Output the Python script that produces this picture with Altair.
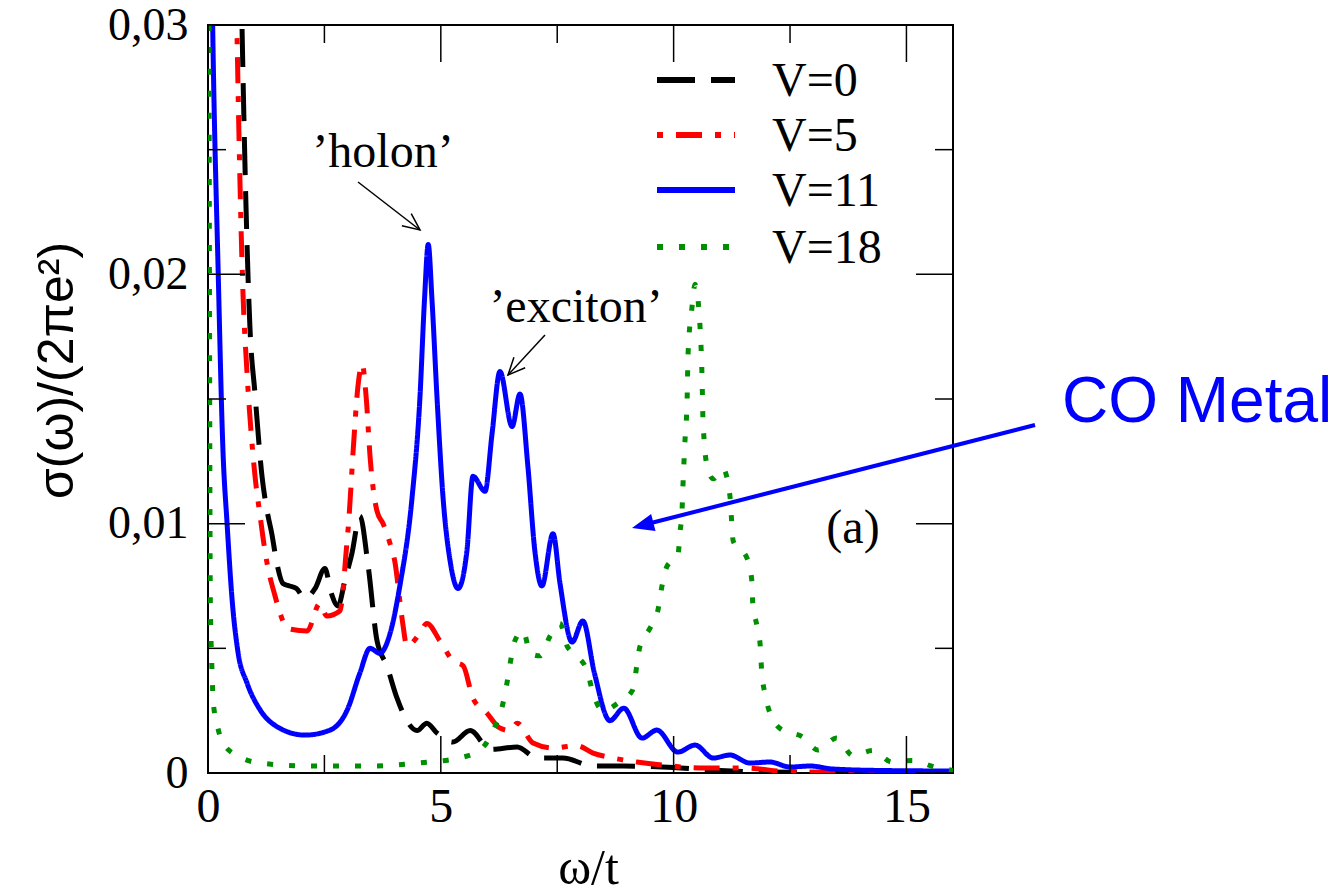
import altair as alt
import pandas as pd

# ---------------- data ----------------
series_names = ["V=0", "V=5", "V=11", "V=18"]
series_colors = ["#000000", "#ff0000", "#0000ff", "#008f00"]

v0_x = [0.6, 0.73, 0.86, 0.90, 1.01, 1.16, 1.27, 1.37, 1.48, 1.61, 1.75, 1.90, 2.08, 2.3, 2.51, 2.65,
        2.79, 2.95, 3.09, 3.26, 3.44, 3.63, 3.84, 4.06, 4.27, 4.49, 4.70, 4.92, 5.26, 5.63, 6.06, 6.64,
        7.07, 7.62, 8.27, 8.91, 10.0, 11.0, 12.0, 16.0]
v0_y = [0.045, 0.030, 0.0199, 0.0179, 0.0152, 0.0119, 0.0105, 0.0096, 0.0084, 0.0076, 0.0075, 0.0074,
        0.0070, 0.0074, 0.0082, 0.0072, 0.0067, 0.0078, 0.0088, 0.0103, 0.0083, 0.0053, 0.0043, 0.0030,
        0.0021, 0.0017, 0.0020, 0.0016, 0.00124, 0.0017, 0.00095, 0.00104, 0.0006, 0.0006, 0.00028,
        0.00028, 0.00022, 0.0001, 0.00004, 0.0]

v5_x = [0.5, 0.62, 0.75, 0.83, 0.90, 1.01, 1.12, 1.20, 1.27, 1.44, 1.55, 1.70, 2.13, 2.40, 2.55, 2.83,
        2.90, 2.95, 3.03, 3.12, 3.22, 3.31, 3.40, 3.48, 3.63, 3.76, 3.91, 4.02, 4.12, 4.19, 4.27, 4.55,
        4.70, 4.98, 5.26, 5.48, 5.69, 5.99, 6.27, 6.49, 6.64, 6.98, 7.41, 7.92, 8.27, 8.70, 9.21, 9.85,
        10.57, 11.5, 12.5, 16.0]
v5_y = [0.045, 0.030, 0.0193, 0.0163, 0.0143, 0.0119, 0.0103, 0.0092, 0.0084, 0.0071, 0.0064, 0.0058,
        0.0057, 0.0068, 0.0063, 0.0065, 0.0073, 0.0085, 0.0103, 0.0130, 0.0155, 0.0164, 0.0150, 0.0127,
        0.0105, 0.0100, 0.0092, 0.0084, 0.0069, 0.0059, 0.0051, 0.0056, 0.0060, 0.0053, 0.0045, 0.0043,
        0.0030, 0.0024, 0.0018, 0.0017, 0.0020, 0.0012, 0.0010, 0.0011, 0.0008, 0.0006, 0.00044, 0.0003,
        0.0002, 0.0002, 0.00005, 0.0]

v11_x = [0.0, 0.1, 0.22, 0.32, 0.41, 0.52, 0.64, 0.84, 1.12, 1.50, 2.08, 2.62, 2.99, 3.26, 3.48, 3.69,
         3.91, 4.12, 4.38, 4.55, 4.65, 4.73, 4.81, 4.92, 5.05, 5.20, 5.37, 5.56, 5.69, 5.95, 6.10, 6.27,
         6.53, 6.70, 6.87, 7.02, 7.17, 7.41, 7.56, 7.82, 8.05, 8.30, 8.63, 8.93, 9.32, 9.64, 10.09, 10.46,
         10.85, 11.21, 11.64, 12.07, 12.5, 12.93, 13.42, 14.5, 16.0]
v11_y = [0.045, 0.030, 0.020, 0.0130, 0.0100, 0.0069, 0.0049, 0.0036, 0.00253, 0.00184, 0.00152,
         0.00172, 0.00253, 0.0040, 0.0050, 0.0048, 0.0056, 0.0075, 0.0110, 0.0150, 0.0190, 0.0212,
         0.0190, 0.0150, 0.0110, 0.0085, 0.0074, 0.0089, 0.0119, 0.0113, 0.0136, 0.0161, 0.0139, 0.0152,
         0.0123, 0.0089, 0.0075, 0.0096, 0.0076, 0.00525, 0.0061, 0.0040, 0.0021, 0.0026, 0.0014,
         0.00172, 0.00084, 0.00112, 0.0006, 0.00072, 0.0004, 0.00044, 0.00024, 0.00028, 0.00016, 0.0001,
         0.00008]

v18_x = [0.0, 0.02, 0.05, 0.09, 0.11, 0.19, 0.32, 0.69, 1.12, 2.13, 3.54, 4.51, 5.48, 5.91, 6.12, 6.31,
         6.42, 6.49, 6.59, 6.77, 6.92, 7.13, 7.35, 7.56, 7.71, 7.92, 8.14, 8.27, 8.48, 8.8, 9.11, 9.28,
         9.49, 9.66, 9.75, 9.86, 10.09, 10.14, 10.18, 10.2, 10.24, 10.29, 10.31, 10.39, 10.46, 10.57,
         10.61, 10.63, 10.72, 10.85, 11.06, 11.21, 11.28, 11.58, 11.68, 11.7, 11.79, 11.86, 11.89, 11.96,
         12.07, 12.35, 12.76, 13.1, 13.5, 13.85, 14.28, 14.69, 15.12, 15.61, 16.0]
v18_y = [0.045, 0.030, 0.0070, 0.0039, 0.0029, 0.0020, 0.0012, 0.00064, 0.0004, 0.00028, 0.00028,
         0.0004, 0.00064, 0.00104, 0.0017, 0.0026, 0.0036, 0.0044, 0.0053, 0.0057, 0.0048, 0.0047,
         0.0055, 0.0060, 0.0051, 0.0047, 0.0041, 0.0032, 0.0025, 0.0028, 0.0033, 0.0051, 0.0058, 0.0065,
         0.0075, 0.0083, 0.0087, 0.0097, 0.0105, 0.0115, 0.0132, 0.0150, 0.0168, 0.0186, 0.0196, 0.0178,
         0.0159, 0.0142, 0.0123, 0.0118, 0.0122, 0.0111, 0.0093, 0.0086, 0.0077, 0.0068, 0.0059, 0.0051,
         0.0041, 0.0032, 0.0024, 0.0017, 0.00146, 0.00092, 0.0014, 0.0007, 0.0009, 0.00044, 0.0005,
         0.00024, 0.0001]

x_major = [0, 5, 10, 15]
x_minor = [2.5, 7.5, 12.5]
y_major = [0, 0.01, 0.02, 0.03]
y_minor = [0.005, 0.015, 0.025]

# ---------------- tables ----------------
rows = []
for name, xs_, ys_ in [("V=0", v0_x, v0_y), ("V=5", v5_x, v5_y),
                       ("V=11", v11_x, v11_y), ("V=18", v18_x, v18_y)]:
    for i, (a, b) in enumerate(zip(xs_, ys_)):
        rows.append({"series": name, "w": a, "sigma": b, "order": i})
df = pd.DataFrame(rows)

W, H = 745, 748
X0, Y0 = 208, 25
XMAX, YMAX = 16.0, 0.03


def dx(px):  # page pixel -> data x (for annotation placement)
    return (px - X0) / W * XMAX


def dy(py):  # page pixel -> data y
    return (Y0 + H - py) / H * YMAX


xs = alt.Scale(domain=[0, XMAX], nice=False, zero=False)
ys = alt.Scale(domain=[0, YMAX], nice=False, zero=False)
col = alt.Scale(domain=series_names, range=series_colors)
dash = alt.Scale(domain=series_names, range=[[38, 16], [26, 13, 6, 13], [1, 0], [6, 16]])

ax_x = alt.Axis(values=x_major, labelFont="Liberation Serif", labelFontSize=48,
                labelColor="black", ticks=False, tickSize=0, domain=False, grid=False,
                labelFlush=False, labelPadding=10, title="ω/t", titleFont="Liberation Serif",
                titleFontSize=50, titleFontWeight="normal", titleColor="black",
                titleX=380, titleY=110, titleAlign="center", titleBaseline="alphabetic")
ax_y = alt.Axis(values=y_major, labelFont="Liberation Serif", labelFontSize=46,
                labelColor="black", ticks=False, tickSize=0, domain=False, grid=False,
                labelFlush=False, labelBaseline="middle", labelPadding=20,
                labelExpr="datum.value == 0 ? '0' : replace(format(datum.value, '.2f'), '.', ',')",
                title="σ(ω)/(2πe²)", titleFont="Liberation Sans", titleFontSize=50,
                titleFontWeight="normal", titleColor="black", titleAngle=270,
                titleX=-136, titleY=345, titleAlign="center", titleBaseline="alphabetic")


def X(field):
    return alt.X(field, scale=xs, axis=ax_x)


def Y(field):
    return alt.Y(field, scale=ys, axis=ax_y)


lines = alt.Chart(df).mark_line(clip=True, strokeWidth=5, interpolate="monotone").encode(
    x=X("w:Q"),
    y=Y("sigma:Q"),
    color=alt.Color("series:N", scale=col, legend=None),
    strokeDash=alt.StrokeDash("series:N", scale=dash, legend=None),
    detail="series:N",
    order="order:Q",
)


# inward ticks on all four sides
def xticks(vals, length, top):
    d = pd.DataFrame({"v": vals})
    if top:
        yy, yy2 = alt.value(0), alt.value(length)
    else:
        yy, yy2 = alt.value(H), alt.value(H - length)
    return alt.Chart(d).mark_rule(color="black", strokeWidth=1.5).encode(x=X("v:Q"), y=yy, y2=yy2)


def yticks(vals, length, right):
    d = pd.DataFrame({"v": vals})
    if right:
        xx, xx2 = alt.value(W), alt.value(W - length)
    else:
        xx, xx2 = alt.value(0), alt.value(length)
    return alt.Chart(d).mark_rule(color="black", strokeWidth=1.5).encode(y=Y("v:Q"), x=xx, x2=xx2)


ticks = [xticks(x_major, 37, False), xticks(x_minor, 18, False),
         xticks(x_major, 37, True), xticks(x_minor, 18, True),
         yticks(y_major, 37, False), yticks(y_minor, 18, False),
         yticks(y_major, 37, True), yticks(y_minor, 18, True)]

# legend (drawn inside the plot, top right)
leg_rows_px = [80, 135, 190, 247]
leg = pd.DataFrame({
    "series": series_names,
    "x1": [dx(657)] * 4, "x2": [dx(735)] * 4, "xt": [dx(772)] * 4,
    "y": [dy(p) for p in leg_rows_px],
})


def leg_line(keep, offset):
    return alt.Chart(leg).transform_filter(
        alt.FieldOneOfPredicate(field="series", oneOf=keep)
    ).mark_rule(strokeWidth=6, strokeDashOffset=offset).encode(
        x=X("x1:Q"), x2="x2:Q", y=Y("y:Q"),
        color=alt.Color("series:N", scale=col, legend=None),
        strokeDash=alt.StrokeDash("series:N", scale=dash, legend=None))


leg_lines_a = leg_line(["V=0", "V=11", "V=18"], 0)
leg_lines_b = leg_line(["V=5"], 39)
leg_text = alt.Chart(leg).mark_text(font="Liberation Serif", fontSize=48, align="left",
                                    baseline="middle", color="black", dy=2).encode(
    x=X("xt:Q"), y=Y("y:Q"), text="series:N")

# annotations
txt = pd.DataFrame({
    "t": ["’holon’", "’exciton’", "(a)"],
    "x": [dx(383), dx(576), dx(853)],
    "y": [dy(167), dy(322), dy(543)],
})
ann_text = alt.Chart(txt).mark_text(font="Liberation Serif", fontSize=48, align="center",
                                    baseline="alphabetic", color="black").encode(
    x=X("x:Q"), y=Y("y:Q"), text="t:N")

arr = pd.DataFrame({
    "x": [dx(358), dx(545)], "y": [dy(182), dy(335)],
    "x2": [dx(420), dx(508)], "y2": [dy(230), dy(375)],
    "ang": [37.7, 132.8],
})
ann_arrows = alt.Chart(arr).mark_rule(color="black", strokeWidth=1.5).encode(
    x=X("x:Q"), y=Y("y:Q"), x2="x2:Q", y2="y2:Q")
ann_heads = alt.Chart(arr).mark_point(shape="M -1 -0.45 L 0 0 L -1 0.45", filled=False,
                                      color="black", strokeWidth=1.5, size=1156, opacity=1).encode(
    x=X("x2:Q"), y=Y("y2:Q"), angle=alt.Angle("ang:Q", scale=None))

co = pd.DataFrame({"t": ["CO Metal"], "x": [dx(1062)], "y": [dy(422)]})
co_text = alt.Chart(co).mark_text(font="Liberation Sans", fontSize=64, align="left",
                                  baseline="alphabetic", color="#0000ff").encode(
    x=X("x:Q"), y=Y("y:Q"), text="t:N")

blue_arr = pd.DataFrame({"x": [dx(1035)], "y": [dy(425)], "x2": [dx(649)], "y2": [dy(523.5)],
                         "tx": [dx(632)], "ty": [dy(528)], "ang": [165.7]})
blue_line = alt.Chart(blue_arr).mark_rule(color="#0000ff", strokeWidth=4).encode(
    x=X("x:Q"), y=Y("y:Q"), x2="x2:Q", y2="y2:Q")
blue_head = alt.Chart(blue_arr).mark_point(shape="M 0 0 L -1 -0.4 L -1 0.4 Z", filled=True,
                                           color="#0000ff", size=1936, opacity=1).encode(
    x=X("tx:Q"), y=Y("ty:Q"), angle=alt.Angle("ang:Q", scale=None))

chart = alt.layer(
    lines, *ticks, leg_lines_a, leg_lines_b, leg_text, ann_text, ann_arrows, ann_heads,
    co_text, blue_line, blue_head
).properties(
    width=W, height=H,
    background="white",
    autosize=alt.AutoSizeParams(type="none"),
    padding={"left": X0, "top": Y0, "right": 1335 - X0 - W, "bottom": 894 - Y0 - H},
).configure_view(
    stroke="black", strokeWidth=2
)

chart.save("out.html", embed_options={"renderer": "svg", "actions": False})
